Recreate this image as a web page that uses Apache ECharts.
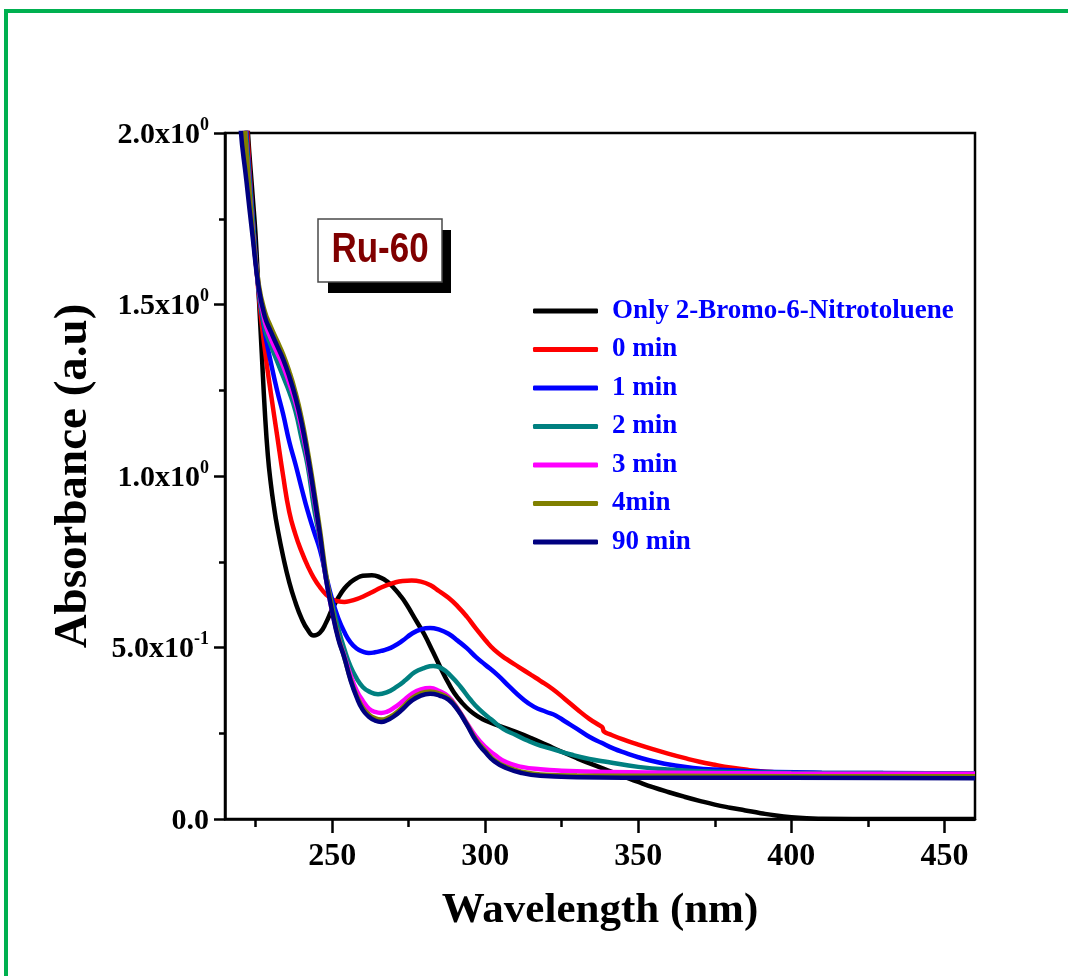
<!DOCTYPE html>
<html>
<head>
<meta charset="utf-8">
<title>Absorbance spectra – Ru-60</title>
<script src="https://cdn.jsdelivr.net/npm/echarts@6/dist/echarts.min.js"></script>
<style>
  html, body { margin: 0; padding: 0; background: #fff; }
  #chart { width: 1068px; height: 976px; }
</style>
</head>
<body>
<div id="chart"></div>
<script>
// UV-Vis spectra: [wavelength (nm), absorbance (a.u)]
const onlyBromoNitrotoluene = [
  [217, 3.2], [219, 2.6], [221, 2.25], [222.5, 2.0], [224, 1.82], [225, 1.7], [226, 1.53],
  [227, 1.36], [228, 1.19], [229, 1.06], [230, 0.975], [231, 0.91], [232, 0.855], [234, 0.765],
  [236, 0.69], [238, 0.632], [240, 0.585], [242, 0.552], [244, 0.535], [246, 0.543], [248, 0.572],
  [250, 0.612], [252, 0.645], [254, 0.672], [256, 0.69], [258, 0.702], [260, 0.709], [263, 0.711],
  [266, 0.703], [268, 0.692], [270, 0.675], [272, 0.654], [274, 0.63], [276, 0.6], [278, 0.57],
  [280, 0.54], [283, 0.486], [286, 0.43], [288, 0.396], [290, 0.366], [292, 0.343], [295, 0.316],
  [298, 0.297], [300, 0.287], [305, 0.27], [310, 0.254], [315, 0.236], [320, 0.216], [325, 0.196],
  [330, 0.177], [335, 0.159], [340, 0.142], [345, 0.125], [350, 0.108], [355, 0.092], [360, 0.078],
  [365, 0.065], [370, 0.053], [375, 0.042], [380, 0.033], [385, 0.025], [390, 0.017], [395, 0.01],
  [400, 0.005], [405, 0.002], [410, 0.001], [430, 0.0], [460, 0.0]
];
const min0 = [
  [217, 3.2], [219, 2.55], [221, 2.2], [222.3, 2.0], [224, 1.76], [226, 1.53], [228, 1.37],
  [230, 1.24], [232, 1.12], [234, 1.0], [236, 0.895], [238, 0.83], [240, 0.78], [242, 0.738],
  [244, 0.703], [246, 0.676], [248, 0.655], [250, 0.641], [252, 0.635], [254, 0.633], [256, 0.636],
  [258, 0.641], [260, 0.648], [263, 0.661], [266, 0.675], [270, 0.688], [273, 0.694], [276, 0.695],
  [279, 0.692], [282, 0.682], [285, 0.664], [288, 0.645], [291, 0.62], [294, 0.59], [297, 0.555],
  [300, 0.522], [303, 0.493], [307, 0.466], [311, 0.443], [315, 0.42], [318, 0.403], [322, 0.379],
  [326, 0.35], [330, 0.32], [334, 0.292], [337.5, 0.272], [338.3, 0.267], [338.8, 0.255],
  [341, 0.246], [345, 0.232], [350, 0.217], [355, 0.203], [360, 0.19], [365, 0.178], [370, 0.167],
  [375, 0.158], [380, 0.15], [385, 0.144], [390, 0.139], [395, 0.136], [400, 0.134], [410, 0.132],
  [425, 0.131], [460, 0.13]
];
const min1 = [
  [217, 3.2], [219, 2.5], [221, 2.15], [222, 2.0], [224, 1.76], [226, 1.54], [228, 1.42],
  [230, 1.33], [232, 1.25], [234, 1.18], [236, 1.1], [238, 1.035], [240, 0.965], [242, 0.898],
  [244, 0.84], [246, 0.785], [248, 0.71], [250, 0.64], [252, 0.585], [254, 0.545], [256, 0.515],
  [258, 0.497], [260, 0.488], [262, 0.484], [264, 0.486], [266, 0.49], [268, 0.495], [270, 0.503],
  [273, 0.52], [276, 0.54], [279, 0.553], [282, 0.557], [285, 0.552], [288, 0.54], [291, 0.52],
  [294, 0.498], [297, 0.472], [300, 0.45], [304, 0.42], [308, 0.385], [312, 0.352], [316, 0.327],
  [320, 0.312], [323, 0.302], [326, 0.285], [330, 0.263], [334, 0.24], [338, 0.222], [342, 0.205],
  [346, 0.192], [350, 0.18], [356, 0.166], [362, 0.156], [368, 0.149], [375, 0.144], [385, 0.14],
  [395, 0.137], [410, 0.135], [430, 0.134], [460, 0.133]
];
const min2 = [
  [217, 3.2], [219, 2.45], [221, 2.12], [222, 1.98], [224, 1.75], [226, 1.54], [228, 1.43],
  [230, 1.38], [232, 1.335], [234, 1.29], [236, 1.245], [238, 1.19], [240, 1.11], [242, 1.03],
  [244, 0.91], [246, 0.815], [248, 0.7], [250, 0.625], [252, 0.555], [254, 0.495], [256, 0.445],
  [258, 0.41], [260, 0.385], [262, 0.372], [265, 0.364], [268, 0.37], [271, 0.385], [274, 0.405],
  [277, 0.428], [280, 0.44], [283, 0.446], [286, 0.438], [289, 0.415], [292, 0.385], [295, 0.35],
  [298, 0.32], [302, 0.29], [306, 0.262], [310, 0.245], [314, 0.228], [318, 0.214], [322, 0.204],
  [328, 0.188], [334, 0.175], [340, 0.166], [350, 0.152], [360, 0.144], [375, 0.138], [400, 0.135],
  [430, 0.134], [460, 0.133]
];
const min3 = [
  [217, 3.0], [219, 2.4], [221, 2.08], [222, 1.95], [224, 1.72], [226, 1.55], [228, 1.45],
  [230, 1.4], [232, 1.36], [234, 1.32], [236, 1.27], [238, 1.215], [240, 1.14], [242, 1.05],
  [244, 0.94], [246, 0.825], [248, 0.7], [250, 0.605], [252, 0.53], [254, 0.475], [256, 0.42],
  [258, 0.375], [260, 0.345], [262, 0.322], [264, 0.312], [266, 0.309], [268, 0.313], [270, 0.323],
  [273, 0.343], [276, 0.365], [279, 0.378], [282, 0.382], [285, 0.373], [288, 0.357], [291, 0.322],
  [294, 0.28], [297, 0.24], [300, 0.21], [303, 0.188], [307, 0.165], [312, 0.152], [318, 0.145],
  [325, 0.141], [340, 0.137], [360, 0.135], [400, 0.133], [460, 0.132]
];
const min4 = [
  [217, 3.0], [219, 2.4], [221, 2.08], [222, 1.95], [224, 1.72], [226, 1.56], [228, 1.48],
  [230, 1.435], [232, 1.395], [234, 1.355], [236, 1.305], [238, 1.245], [240, 1.17], [242, 1.075],
  [244, 0.965], [246, 0.845], [248, 0.715], [250, 0.615], [252, 0.53], [254, 0.47], [256, 0.408],
  [258, 0.36], [260, 0.325], [262, 0.305], [264, 0.294], [266, 0.29], [268, 0.294], [270, 0.304],
  [273, 0.326], [276, 0.352], [279, 0.367], [282, 0.372], [285, 0.366], [288, 0.352], [291, 0.32],
  [294, 0.277], [297, 0.232], [300, 0.2], [303, 0.172], [307, 0.152], [312, 0.138], [318, 0.13],
  [330, 0.127], [360, 0.126], [400, 0.125], [460, 0.125]
];
const min90 = [
  [217, 2.9], [218.5, 2.4], [220, 2.03], [222, 1.86], [224, 1.7], [226, 1.55], [228, 1.465],
  [230, 1.42], [232, 1.38], [234, 1.34], [236, 1.29], [238, 1.23], [240, 1.155], [242, 1.06],
  [244, 0.95], [246, 0.83], [248, 0.7], [250, 0.605], [252, 0.525], [254, 0.47], [256, 0.405],
  [258, 0.355], [260, 0.318], [262, 0.298], [264, 0.287], [266, 0.283], [268, 0.288], [270, 0.298],
  [273, 0.32], [276, 0.345], [279, 0.36], [282, 0.365], [285, 0.36], [288, 0.348], [291, 0.318],
  [294, 0.275], [297, 0.228], [300, 0.195], [303, 0.168], [307, 0.148], [312, 0.134], [318, 0.126],
  [330, 0.122], [360, 0.12], [400, 0.12], [460, 0.119]
];

const seriesNames = ['Only 2-Bromo-6-Nitrotoluene', '0 min', '1 min', '2 min', '3 min', '4min', '90 min'];
const seriesColors = ['#000000', '#FF0000', '#0000FF', '#008080', '#FF00FF', '#808000', '#000080'];
const seriesData = [onlyBromoNitrotoluene, min0, min1, min2, min3, min4, min90];

const xMajorTicks = [250, 300, 350, 400, 450];
const xMinorTicks = [225, 275, 325, 375, 425];
// y tick labels as [mantissa, exponent]
const yTickLabels = [['0.0', ''], ['5.0x10', '-1'], ['1.0x10', '0'], ['1.5x10', '0'], ['2.0x10', '0']];

const SERIF = '"Liberation Serif", "Times New Roman", serif';

const chart = echarts.init(document.getElementById('chart'), null, { renderer: 'canvas' });

const axisLineStyle = { color: '#000', width: 2.5 };

chart.setOption({
  animation: false,
  backgroundColor: '#ffffff',
  grid: {
    left: 225, top: 133, right: 93, bottom: 157,
    show: true, borderColor: '#000', borderWidth: 2.5, backgroundColor: 'transparent'
  },
  legend: {
    orient: 'vertical',
    left: 533, top: 296, padding: 0,
    itemWidth: 65, itemHeight: 5, itemGap: 8.5,
    icon: 'roundRect',
    data: seriesNames,
    textStyle: {
      color: '#0000FF', fontSize: 27, fontWeight: 'bold', fontFamily: SERIF,
      lineHeight: 30, padding: [0, 0, 0, 9]
    }
  },
  xAxis: [
    {
      type: 'value', min: 215, max: 460, position: 'bottom',
      axisLine: { show: true, lineStyle: axisLineStyle },
      axisTick: { show: true, inside: false, length: 14, lineStyle: axisLineStyle, customValues: xMajorTicks },
      axisLabel: {
        customValues: xMajorTicks, margin: 22,
        color: '#000', fontSize: 32, fontWeight: 'bold', fontFamily: SERIF
      },
      splitLine: { show: false },
      name: 'Wavelength (nm)', nameLocation: 'middle', nameGap: 70,
      nameTextStyle: { color: '#000', fontSize: 43, fontWeight: 'bold', fontFamily: SERIF }
    },
    {
      type: 'value', min: 215, max: 460, position: 'bottom',
      axisLine: { show: false },
      axisTick: { show: true, inside: false, length: 8, lineStyle: axisLineStyle, customValues: xMinorTicks },
      axisLabel: { show: false },
      splitLine: { show: false }
    }
  ],
  yAxis: {
    type: 'value', min: 0, max: 2, interval: 0.5,
    axisLine: { show: true, lineStyle: axisLineStyle },
    axisTick: { show: true, inside: false, length: 11, lineStyle: axisLineStyle },
    minorTick: { show: true, splitNumber: 2, length: 6, lineStyle: axisLineStyle },
    splitLine: { show: false },
    minorSplitLine: { show: false },
    axisLabel: {
      margin: 16,
      formatter: function (v) {
        const lab = yTickLabels[Math.round(v / 0.5)];
        return lab[1] ? '{m|' + lab[0] + '}{s|' + lab[1] + '}' : '{m|' + lab[0] + '}';
      },
      rich: {
        m: { color: '#000', fontSize: 30, fontWeight: 'bold', fontFamily: SERIF, lineHeight: 34, verticalAlign: 'bottom' },
        s: { color: '#000', fontSize: 18, fontWeight: 'bold', fontFamily: SERIF, lineHeight: 18, verticalAlign: 'top' }
      }
    },
    name: 'Absorbance (a.u)', nameLocation: 'middle', nameGap: 128,
    nameTextStyle: { color: '#000', fontSize: 47, fontWeight: 'bold', fontFamily: SERIF }
  },
  series: seriesData.map(function (d, i) {
    return {
      name: seriesNames[i],
      type: 'line',
      xAxisIndex: 0,
      data: d,
      color: seriesColors[i],
      symbol: 'none',
      showSymbol: false,
      smooth: 0.5,
      clip: true,
      z: 2 + i,
      lineStyle: { color: seriesColors[i], width: 4.5 }
    };
  }),
  graphic: [
    // outer green frame
    {
      type: 'rect', silent: true, z: 100,
      shape: { x: 6, y: 11, width: 1120, height: 1020 },
      style: { fill: 'none', stroke: '#00B050', lineWidth: 4 }
    },
    // sample tag with drop shadow
    {
      type: 'rect', silent: true, z: 100,
      shape: { x: 328, y: 230, width: 123, height: 63 },
      style: { fill: '#000' }
    },
    {
      type: 'rect', silent: true, z: 101,
      shape: { x: 318, y: 219, width: 124, height: 63 },
      style: { fill: '#fff', stroke: '#4a4a4a', lineWidth: 1.5 }
    },
    {
      type: 'text', silent: true, z: 102,
      x: 380, y: 250, scaleY: 1.2,
      style: {
        text: 'Ru-60', fill: '#800000',
        font: 'bold 35px "Liberation Sans", Arial, sans-serif',
        textAlign: 'center', textVerticalAlign: 'middle'
      }
    }
  ]
});
</script>
</body>
</html>
